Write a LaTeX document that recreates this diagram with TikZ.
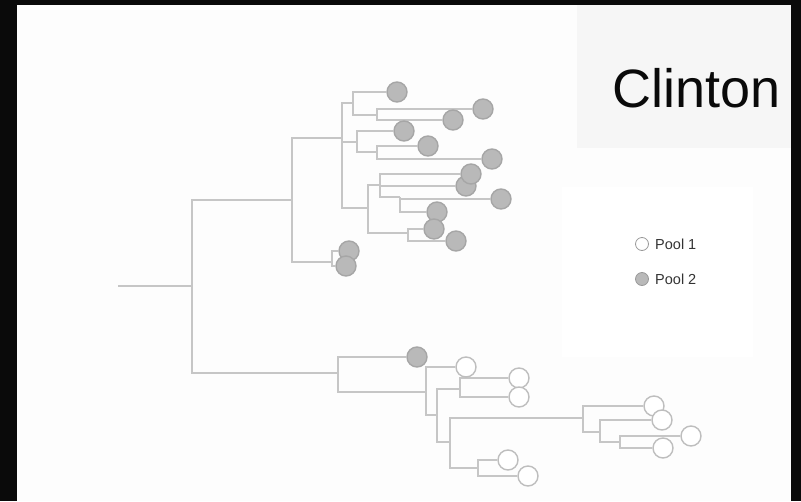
\documentclass[tikz,border=0pt]{standalone}
\usepackage{fontspec}
\setmainfont{Liberation Sans}
\pgfdeclarelayer{bg}
\pgfdeclarelayer{lines}
\pgfsetlayers{bg,lines,main}
\definecolor{frame}{HTML}{0A0A0A}
\definecolor{paper}{HTML}{FDFDFD}
\definecolor{titlebg}{HTML}{F6F6F6}
\definecolor{branch}{HTML}{C6C6C6}
\definecolor{tipfill}{HTML}{B9B9B9}
\definecolor{tipedge}{HTML}{A6A6A6}
\definecolor{ringedge}{HTML}{BEBEBE}
\definecolor{labeltext}{HTML}{333333}
\begin{document}
\begin{tikzpicture}[x=1pt,y=-1pt,
  branchline/.style={draw=branch,line width=1.2pt},
  pooltwo/.style={circle,fill=tipfill,draw=tipedge,line width=1.4pt,minimum size=20pt,inner sep=0pt},
  poolone/.style={circle,fill=white,draw=ringedge,line width=1.4pt,minimum size=20pt,inner sep=0pt},
  keytwo/.style={circle,fill=tipfill,draw=gray!80,line width=0.8pt,minimum size=13pt,inner sep=0pt},
  keyone/.style={circle,fill=white,draw=gray!80,line width=0.8pt,minimum size=13pt,inner sep=0pt},
  keytext/.style={anchor=west,text=labeltext,font=\fontsize{14.5}{16}\selectfont,inner sep=0pt}]
\useasboundingbox (0,0) rectangle (801,501);
\begin{pgfonlayer}{bg}
  \fill[frame] (0,0) rectangle (801,501);
  \fill[paper] (17,5) rectangle (791,501);
  \fill[titlebg] (577,5) rectangle (791,148);
  \fill[white] (562,187) rectangle (753,357);
\end{pgfonlayer}

% title and legend
\node[text=frame,font=\fontsize{54}{62}\selectfont] (title) at (697,88) {Clinton};
\node[keyone] (k1) at (642,244) {};
\node[keytext] (k1t) at (655,244) {Pool 1};
\node[keytwo] (k2) at (642,279) {};
\node[keytext] (k2t) at (655,279) {Pool 2};

% internal nodes of the tree
\coordinate (r0) at (118,286);
\coordinate (R) at (192,286);
\coordinate (U) at (292,200);
\coordinate (L) at (338,373);
\coordinate (A) at (342,138);
\coordinate (W) at (332,262);
\coordinate (B) at (353,103);
\coordinate (C) at (377,115);
\coordinate (E) at (357,142);
\coordinate (F) at (377,152);
\coordinate (J) at (368,208);
\coordinate (H) at (380,185);
\coordinate (I) at (400,197);
\coordinate (K) at (408,233);
\coordinate (M) at (426,392);
\coordinate (N) at (437,415);
\coordinate (O) at (460,389);
\coordinate (P) at (450,442);
\coordinate (Q) at (583,418);
\coordinate (S) at (600,432);
\coordinate (T) at (620,442);
\coordinate (V) at (478,468);

% tips
\node[pooltwo] (t1) at (397,92) {};
\node[pooltwo] (t3) at (453,120) {};
\node[pooltwo] (t2) at (483,109) {};
\node[pooltwo] (t4) at (404,131) {};
\node[pooltwo] (t5) at (428,146) {};
\node[pooltwo] (t6) at (492,159) {};
\node[pooltwo] (t8) at (466,186) {};
\node[pooltwo] (t7) at (471,174) {};
\node[pooltwo] (t9) at (501,199) {};
\node[pooltwo] (t10) at (437,212) {};
\node[pooltwo] (t11) at (434,229) {};
\node[pooltwo] (t12) at (456,241) {};
\node[pooltwo] (t14) at (349,251) {};
\node[pooltwo] (t15) at (346,266) {};
\node[pooltwo] (t16) at (417,357) {};
\node[poolone] (t17) at (466,367) {};
\node[poolone] (t18) at (519,378) {};
\node[poolone] (t19) at (519,397) {};
\node[poolone] (t20) at (654,406) {};
\node[poolone] (t21) at (662,420) {};
\node[poolone] (t22) at (691,436) {};
\node[poolone] (t23) at (663,448) {};
\node[poolone] (t24) at (508,460) {};
\node[poolone] (t25) at (528,476) {};

% branches
\begin{pgfonlayer}{lines}
\begin{scope}[branchline]
  \draw (r0) -- (R);
  \draw (R) |- (U);
  \draw (R) |- (L);
  \draw (U) |- (A);
  \draw (U) |- (W);
  \draw (W) |- (t14);
  \draw (W) |- (t15);
  \draw (A) |- (B);
  \draw (A) |- (E);
  \draw (A) |- (J);
  \draw (B) |- (t1);
  \draw (B) |- (C);
  \draw (C) |- (t2);
  \draw (C) |- (t3);
  \draw (E) |- (t4);
  \draw (E) |- (F);
  \draw (F) |- (t5);
  \draw (F) |- (t6);
  \draw (J) |- (H);
  \draw (J) |- (K);
  \draw (H) |- (t7);
  \draw (H) |- (t8);
  \draw (H) |- (I);
  \draw (I) |- (t9);
  \draw (I) |- (t10);
  \draw (K) |- (t11);
  \draw (K) |- (t12);
  \draw (L) |- (t16);
  \draw (L) |- (M);
  \draw (M) |- (t17);
  \draw (M) |- (N);
  \draw (N) |- (O);
  \draw (N) |- (P);
  \draw (O) |- (t18);
  \draw (O) |- (t19);
  \draw (P) |- (Q);
  \draw (P) |- (V);
  \draw (Q) |- (t20);
  \draw (Q) |- (S);
  \draw (S) |- (t21);
  \draw (S) |- (T);
  \draw (T) |- (t22);
  \draw (T) |- (t23);
  \draw (V) |- (t24);
  \draw (V) |- (t25);
\end{scope}
\end{pgfonlayer}
\end{tikzpicture}
\end{document}
